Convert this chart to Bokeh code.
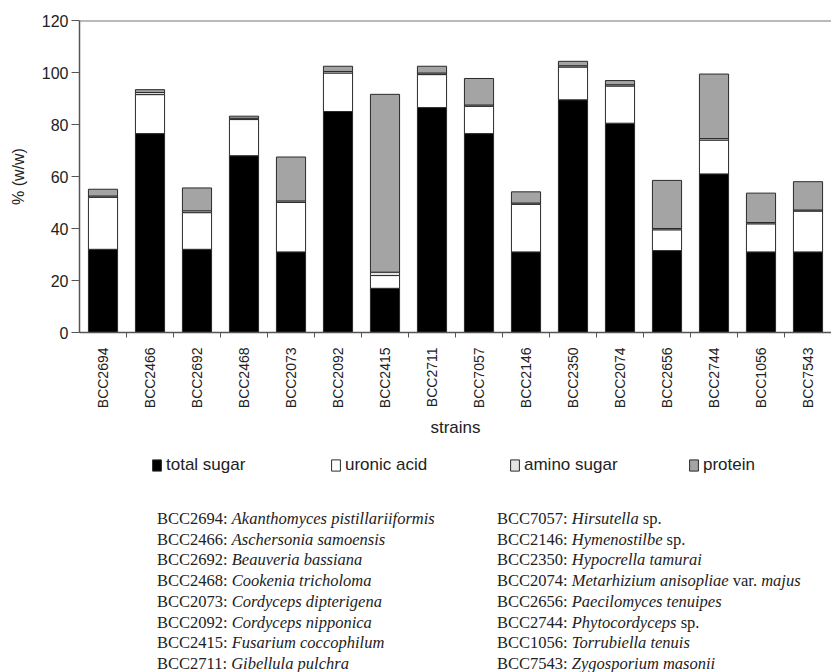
import math
from bokeh.plotting import figure
from bokeh.models import (ColumnDataSource, Range1d, FixedTicker, Span, Legend,
                          LegendItem, Div)
from bokeh.layouts import column
from bokeh.embed import file_html
from bokeh.resources import INLINE

# ---------------- data ----------------
strains = ["BCC2694", "BCC2466", "BCC2692", "BCC2468", "BCC2073", "BCC2092",
           "BCC2415", "BCC2711", "BCC7057", "BCC2146", "BCC2350", "BCC2074",
           "BCC2656", "BCC2744", "BCC1056", "BCC7543"]
total_sugar = [32.0, 76.5, 32.0, 68.0, 31.0, 85.0, 17.0, 86.5, 76.5, 31.0, 89.5, 80.5, 31.5, 61.0, 31.0, 31.0]
uronic_acid = [20.0, 15.0, 14.1, 13.9, 19.0, 14.8, 4.9, 12.7, 10.5, 18.3, 12.6, 14.3, 8.0, 13.0, 10.8, 15.7]
amino_sugar = [0.5, 0.8, 0.7, 0.5, 0.6, 0.6, 1.3, 0.6, 0.5, 0.5, 0.5, 0.5, 0.5, 0.6, 0.5, 0.4]
protein = [2.6, 1.1, 8.8, 0.8, 16.9, 2.0, 68.4, 2.6, 10.2, 4.3, 1.7, 1.6, 18.5, 24.8, 11.3, 10.9]

series_names = ["total sugar", "uronic acid", "amino sugar", "protein"]
series_keys = ["total_sugar", "uronic_acid", "amino_sugar", "protein"]
series_colors = ["#000000", "#ffffff", "#e4e4e4", "#a4a4a4"]
y_ticks = [0, 20, 40, 60, 80, 100, 120]

species_left = [
    ("BCC2694", "Akanthomyces pistillariiformis", ""),
    ("BCC2466", "Aschersonia samoensis", ""),
    ("BCC2692", "Beauveria bassiana", ""),
    ("BCC2468", "Cookenia tricholoma", ""),
    ("BCC2073", "Cordyceps dipterigena", ""),
    ("BCC2092", "Cordyceps nipponica", ""),
    ("BCC2415", "Fusarium coccophilum", ""),
    ("BCC2711", "Gibellula pulchra", ""),
]
species_right = [
    ("BCC7057", "Hirsutella", " sp."),
    ("BCC2146", "Hymenostilbe", " sp."),
    ("BCC2350", "Hypocrella tamurai", ""),
    ("BCC2074", "Metarhizium anisopliae", " var. <i>majus</i>"),
    ("BCC2656", "Paecilomyces tenuipes", ""),
    ("BCC2744", "Phytocordyceps", " sp."),
    ("BCC1056", "Torrubiella tenuis", ""),
    ("BCC7543", "Zygosporium masonii", ""),
]

# ---------------- chart ----------------
n = len(strains)
centers = [i + 0.5 for i in range(n)]
bounds = [i for i in range(1, n)]

src = ColumnDataSource(dict(x=centers, total_sugar=total_sugar, uronic_acid=uronic_acid,
                            amino_sugar=amino_sugar, protein=protein))

FONT = "Liberation Sans"
W = 831
p = figure(width=W, height=440, output_backend="svg", toolbar_location=None,
           x_range=Range1d(0, n), y_range=Range1d(0, 120),
           min_border_top=20, min_border_left=79, min_border_right=0,
           min_border_bottom=107)
p.outline_line_color = None
p.grid.visible = False
p.background_fill_color = "white"

renderers = p.vbar_stack(series_keys, x="x", width=0.62, source=src,
                         fill_color=series_colors, line_color="#2a2a2a", line_width=1)

p.add_layout(Span(location=120, dimension="width", line_color="#777777", line_width=2))

# y axis
ya = p.yaxis[0]
ya.ticker = FixedTicker(ticks=y_ticks)
ya.axis_label = "% (w/w)"
ya.axis_label_text_font = FONT
ya.axis_label_text_font_size = "16px"
ya.axis_label_text_font_style = "normal"
ya.axis_label_text_color = "#222222"
ya.major_label_text_font = FONT
ya.major_label_text_font_size = "16px"
ya.major_label_text_color = "#222222"
ya.axis_line_color = "#555555"
ya.axis_line_width = 1.5
ya.major_tick_line_color = "#555555"
ya.major_tick_out = 8
ya.major_tick_in = 0
ya.minor_tick_line_color = None
ya.major_label_standoff = 3
ya.axis_label_standoff = 12

# x axis
xa = p.xaxis[0]
xa.ticker = FixedTicker(ticks=centers, minor_ticks=bounds)
xa.major_label_overrides = {c: s for c, s in zip(centers, strains)}
xa.major_label_orientation = math.pi / 2
xa.major_label_text_font = FONT
xa.major_label_text_font_size = "14px"
xa.major_label_text_color = "#222222"
xa.major_tick_line_color = None
xa.major_tick_out = 0
xa.major_tick_in = 0
xa.minor_tick_line_color = "#555555"
xa.minor_tick_out = 5
xa.minor_tick_in = 0
xa.axis_line_color = "#555555"
xa.axis_line_width = 1.5
xa.major_label_standoff = 10
xa.axis_label = "strains"
xa.axis_label_text_font = FONT
xa.axis_label_text_font_size = "17px"
xa.axis_label_text_font_style = "normal"
xa.axis_label_text_color = "#222222"
xa.axis_label_standoff = 7

# ---------------- legend (own strip; swatch renderers lie outside its view) ----------------
# note: column layout aligns this strip's frame with the chart frame (left edge at 79px)
lg = figure(width=W, height=48, output_backend="svg", toolbar_location=None,
            x_range=Range1d(-3, -2), y_range=Range1d(0, 1),
            x_axis_location=None, y_axis_location=None,
            min_border_left=0, min_border_right=0,
            min_border_top=0, min_border_bottom=0)
lg.outline_line_color = None
lg.grid.visible = False
swatches = lg.vbar_stack(series_keys, x="x", width=0.62, source=src,
                         fill_color=series_colors, line_color="#2a2a2a", line_width=1)
legend = Legend(items=[LegendItem(label=nm, renderers=[r]) for nm, r in zip(series_names, swatches)],
                orientation="horizontal", location=(72, 13))
legend.label_text_font = FONT
legend.label_text_font_size = "17px"
legend.label_text_color = "#222222"
legend.glyph_width = 11
legend.glyph_height = 14
legend.label_standoff = 4
legend.label_width = 122
legend.spacing = 42
legend.padding = 2
legend.margin = 0
legend.border_line_color = None
legend.background_fill_alpha = 0
lg.add_layout(legend, "center")

# ---------------- species list ----------------
def rows_html(rows):
    out = []
    for code, genus, rest in rows:
        out.append(f'<div style="white-space:nowrap;">{code}: <i>{genus}</i>{rest}</div>')
    return "".join(out)

DIV_H = 184
html = (
    f'<div style="position:relative;width:{W}px;height:{DIV_H}px;overflow:hidden;'
    'font-family:\'Liberation Serif\';font-size:16.5px;line-height:20.7px;color:#222;">'
    f'<div style="position:absolute;left:157px;top:21px;">{rows_html(species_left)}</div>'
    f'<div style="position:absolute;left:497px;top:21px;">{rows_html(species_right)}</div>'
    '</div>'
)
div = Div(text=html, width=W, height=DIV_H, margin=(0, 0, 0, 0))

layout = column(p, lg, div, spacing=0)
open("out.html", "w").write(file_html(layout, INLINE))
